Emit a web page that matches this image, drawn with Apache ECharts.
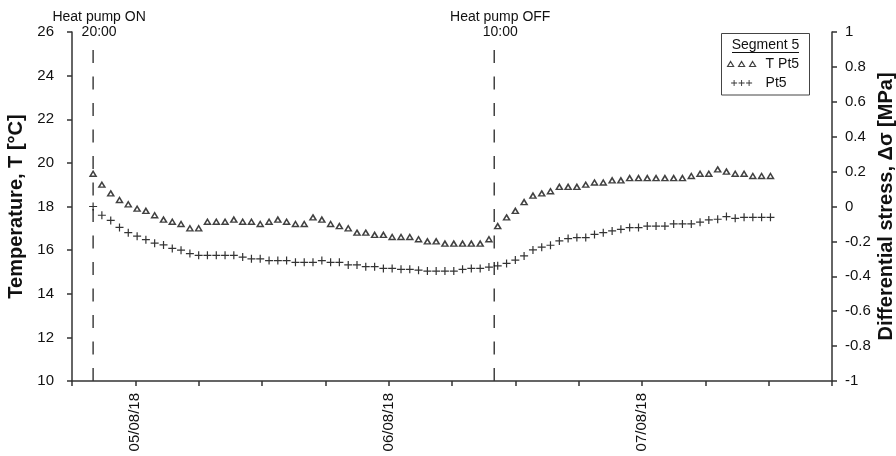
<!DOCTYPE html>
<html>
<head>
<meta charset="utf-8">
<script src="https://cdn.jsdelivr.net/npm/echarts@6/dist/echarts.min.js"></script>
<style>html,body{margin:0;padding:0;background:#fff}#c{width:896px;height:456px}</style>
</head>
<body>
<div id="c"></div>
<script>
// hours since 04/08/18 18:00
const timeHours = [2.00,2.83,3.67,4.50,5.33,6.17,7.00,7.83,8.67,9.50,10.33,11.17,12.00,12.83,13.67,14.50,15.33,16.17,17.00,17.83,18.67,19.50,20.33,21.17,22.00,22.83,23.67,24.50,25.33,26.17,27.00,27.83,28.67,29.50,30.33,31.17,32.00,32.83,33.67,34.50,35.33,36.17,37.00,37.83,38.67,39.50,40.33,41.17,42.00,42.83,43.67,44.50,45.33,46.17,47.00,47.83,48.67,49.50,50.33,51.17,52.00,52.83,53.67,54.50,55.33,56.17,57.00,57.83,58.67,59.50,60.33,61.17,62.00,62.83,63.67,64.50,65.33,66.17];
const tempPt5 = [19.5,19.0,18.6,18.3,18.1,17.9,17.8,17.6,17.4,17.3,17.2,17.0,17.0,17.3,17.3,17.3,17.4,17.3,17.3,17.2,17.3,17.4,17.3,17.2,17.2,17.5,17.4,17.2,17.1,17.0,16.8,16.8,16.7,16.7,16.6,16.6,16.6,16.5,16.4,16.4,16.3,16.3,16.3,16.3,16.3,16.5,17.1,17.5,17.8,18.2,18.5,18.6,18.7,18.9,18.9,18.9,19.0,19.1,19.1,19.2,19.2,19.3,19.3,19.3,19.3,19.3,19.3,19.3,19.4,19.5,19.5,19.7,19.6,19.5,19.5,19.4,19.4,19.4];
const stressPt5 = [0.00,-0.05,-0.08,-0.12,-0.15,-0.17,-0.19,-0.21,-0.22,-0.24,
-0.25,-0.27,-0.28,-0.28,-0.28,-0.28,-0.28,-0.29,-0.30,-0.30,
-0.31,-0.31,-0.31,-0.32,-0.32,-0.32,-0.31,-0.32,-0.32,-0.335,
-0.335,-0.345,-0.345,-0.355,-0.355,-0.36,-0.36,-0.365,-0.37,-0.37,
-0.37,-0.37,-0.36,-0.355,-0.355,-0.347,-0.34,-0.326,-0.307,-0.283,
-0.249,-0.233,-0.222,-0.197,-0.184,-0.178,-0.178,-0.16,-0.15,-0.14,
-0.131,-0.121,-0.121,-0.112,-0.112,-0.112,-0.10,-0.10,-0.10,-0.09,
-0.077,-0.073,-0.058,-0.068,-0.062,-0.062,-0.062,-0.062];
const dateTickHours = [6, 30, 54];
const dateTickLabels = ['05/08/18', '06/08/18', '07/08/18'];
const eventHours = [2, 40];
const eventLabels = ['Heat pump ON\n20:00', 'Heat pump OFF\n10:00'];
const eventBottom = 10;
const eventTop = 25.25;

const FONT = 'Liberation Sans, Arial, sans-serif';
const INK = '#111';
const AX = '#333';
const triIcon = 'path://M3,0L6,5L0,5Z M14,0L17,5L11,5Z M25,0L28,5L22,5Z';
const plusIcon = 'path://M3.4,0h1.2v3.4h3.4v1.2h-3.4v3.4h-1.2v-3.4h-3.4v-1.2h3.4Z M13.4,0h1.2v3.4h3.4v1.2h-3.4v3.4h-1.2v-3.4h-3.4v-1.2h3.4Z M23.4,0h1.2v3.4h3.4v1.2h-3.4v3.4h-1.2v-3.4h-3.4v-1.2h3.4Z';
const plusSym = 'path://M3.4,0h1.2v3.4h3.4v1.2h-3.4v3.4h-1.2v-3.4h-3.4v-1.2h3.4Z';

const chart = echarts.init(document.getElementById('c'), null, {renderer: 'canvas'});

const series = [
  {
    name: 'T Pt5', type: 'scatter', yAxisIndex: 0,
    symbol: 'triangle', symbolSize: [6, 5],
    itemStyle: {color: '#fff', borderColor: INK, borderWidth: 1.5},
    data: timeHours.map((t, i) => [t, tempPt5[i]]), z: 3
  },
  {
    name: 'Pt5', type: 'scatter', yAxisIndex: 1,
    symbol: plusSym, symbolSize: 8,
    itemStyle: {color: '#000', borderWidth: 0},
    data: timeHours.map((t, i) => [t, stressPt5[i]]), z: 3
  }
];
eventHours.forEach((h, k) => {
  series.push({
    name: 'event' + k, type: 'line', yAxisIndex: 0,
    symbol: 'none', silent: true,
    lineStyle: {color: AX, width: 1.4, type: [13, 13.5]},
    data: [[h, eventBottom], [h, eventTop]], z: 1
  });
  series.push({
    name: 'eventLabel' + k, type: 'scatter', yAxisIndex: 0,
    symbol: 'circle', symbolSize: 0.5, silent: true,
    itemStyle: {color: '#fff', opacity: 1},
    label: {show: true, position: 'top', distance: 8.5, offset: [6, 0],
      formatter: eventLabels[k], color: INK, opacity: 1, fontFamily: FONT, fontSize: 14, lineHeight: 15, align: 'center'},
    data: [[h, eventTop]]
  });
});

chart.setOption({
  animation: false,
  backgroundColor: '#fff',
  textStyle: {fontFamily: FONT, color: INK},
  grid: {left: 72, right: 64, top: 32, bottom: 75, containLabel: false, outerBoundsMode: 'none'},
  xAxis: {
    type: 'value', min: 0, max: 72, interval: 6,
    axisLine: {show: true, onZero: false, lineStyle: {color: AX, width: 1.5}},
    axisTick: {show: true, inside: false, length: 5, lineStyle: {color: AX, width: 1.5}},
    splitLine: {show: false},
    axisLabel: {
      rotate: 90, margin: 12, fontSize: 15, color: INK, fontFamily: FONT,
      formatter: v => { const i = dateTickHours.indexOf(v); return i >= 0 ? dateTickLabels[i] : ''; }
    }
  },
  yAxis: [
    {
      type: 'value', min: 10, max: 26, interval: 2, position: 'left',
      name: 'Temperature, T [°C]', nameLocation: 'middle', nameGap: 46, nameRotate: 90, nameMoveOverlap: false,
      nameTextStyle: {fontSize: 20, fontWeight: 'bold', color: INK, fontFamily: FONT},
      axisLine: {show: true, lineStyle: {color: AX, width: 1.5}},
      axisTick: {show: true, length: 5, lineStyle: {color: AX, width: 1.5}},
      splitLine: {show: false},
      axisLabel: {margin: 18, fontSize: 15, color: INK, fontFamily: FONT}
    },
    {
      type: 'value', min: -1, max: 1, interval: 0.2, position: 'right',
      name: 'Differential stress, Δσ [MPa]', nameLocation: 'middle', nameGap: 44, nameRotate: 90, nameMoveOverlap: false,
      nameTextStyle: {fontSize: 20, fontWeight: 'bold', color: INK, fontFamily: FONT},
      axisLine: {show: true, lineStyle: {color: AX, width: 1.5}},
      axisTick: {show: true, length: 5, lineStyle: {color: AX, width: 1.5}},
      splitLine: {show: false},
      axisLabel: {margin: 13, fontSize: 15, color: INK, fontFamily: FONT,
        formatter: v => String(Math.round(v * 10) / 10)}
    }
  ],
  legend: {
    orient: 'vertical', left: 727, top: 57, itemGap: 5, itemWidth: 28, itemHeight: 6,
    padding: 0, selectedMode: false,
    textStyle: {fontSize: 14, color: INK, fontFamily: FONT, padding: [0, 0, 0, 5]},
    data: [
      {name: 'T Pt5', icon: triIcon, itemStyle: {color: '#fff', borderColor: INK, borderWidth: 1.2}},
      {name: 'Pt5', icon: plusIcon, itemStyle: {color: '#000', borderWidth: 0}}
    ]
  },
  graphic: [
    {type: 'rect', shape: {x: 721.5, y: 33.5, width: 88, height: 61.5},
      style: {fill: 'none', stroke: '#444', lineWidth: 1}, silent: true},
    {type: 'text', x: 765.5, y: 45.5,
      style: {text: 'Segment 5', fill: INK, font: '14px ' + FONT, textAlign: 'center', textVerticalAlign: 'middle'}, silent: true},
    {type: 'line', shape: {x1: 732, y1: 52.5, x2: 799, y2: 52.5},
      style: {stroke: INK, lineWidth: 1}, silent: true}
  ],
  series: series
});
</script>
</body>
</html>
